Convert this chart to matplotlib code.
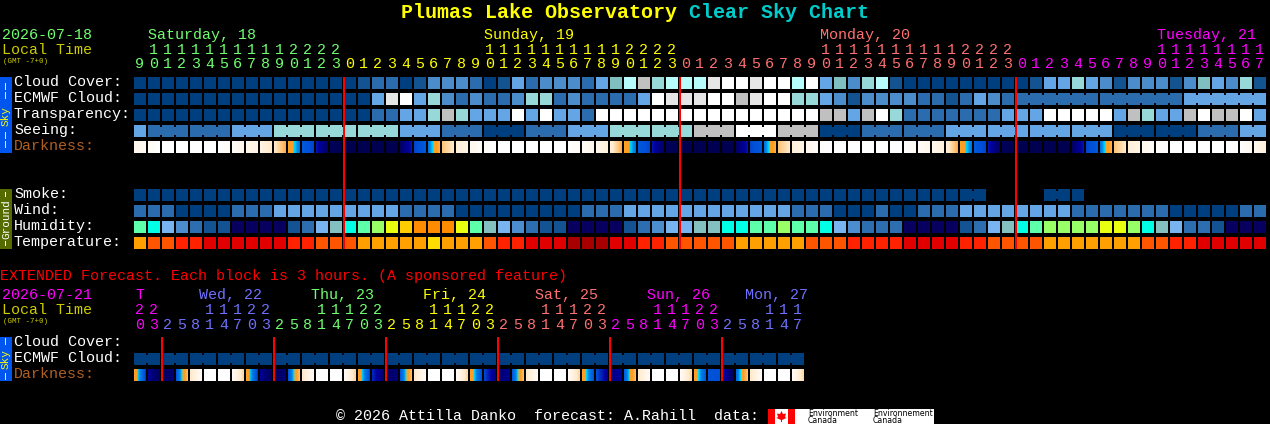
import numpy as np
import matplotlib
matplotlib.use('Agg')
import matplotlib.pyplot as plt
from matplotlib.colors import LinearSegmentedColormap
from matplotlib.patches import Rectangle, Polygon

# --- data ---
SKY_COLORS = ['#003f7f', '#13538f', '#2a6cae', '#4b8ccb', '#63a5e5', '#7fbfbf',
              '#97d9d9', '#b8fbfb', '#c0c0c0', '#e6e6e6', '#ffffff']
HUM_COLORS = ['#08005f', '#135393', '#2d6eb0', '#4c8dd0', '#78b4f0', '#85c0c0',
              '#00ffe4', '#5dffaa', '#99ff66', '#eaff10', '#ffcc00', '#ff8c00']
TEMP_COLORS = ['#a80000', '#e00000', '#ff2200', '#ff5500', '#ffa000', '#ffdd00']

cloud = [0]*16 + [1, 2, 2, 0, 1, 3, 3, 3, 2, 0, 1, 4, 2, 3, 3, 3, 2, 4, 5, 7, 8, 6, 7, 7, 7, 9,
         10, 10, 9, 10, 10, 7, 10, 4, 5, 3, 6, 7, 1, 0, 0, 0, 0, 0, 0, 0, 0, 0, 1, 4, 4, 6,
         4, 3, 1, 3, 3, 3, 1, 3, 5, 4, 3, 6, 1]
ecmwf = [0]*17 + [4, 9, 10, 4, 6, 3, 2, 3, 2, 2, 3, 6, 6, 2, 3, 2, 2, 2, 2, 4, 10, 9, 9, 9, 10,
         10, 8, 9, 10, 10, 6, 6, 4, 3, 1, 3, 3, 3, 3, 2, 2, 1, 2, 4, 3, 2] + [2]*12 + [4]*6
transparency = [0]*17 + [2, 2, 4, 4, 6, 8, 6, 4, 4, 4, 10, 4, 10, 4, 4, 2] + [10]*16 + \
               [8, 8, 4, 8, 10, 6, 2, 2, 2, 2, 2, 2, 2, 4, 4, 4, 10, 10, 10, 10, 10, 4, 8, 6,
                4, 4, 8, 10, 8, 8, 10, 4]
seeing = [4] + [2]*6 + [4]*3 + [6]*9 + [4]*3 + [2]*3 + [0]*3 + [2]*3 + [4]*3 + [6]*6 + [8]*3 + \
         [10]*3 + [8]*3 + [0]*3 + [2]*6 + [4]*12 + [0]*6 + [2]*3 + [4]*2
smoke = [0]*61 + [None]*4 + [0]*3 + [None]*13
wind = [2, 2, 2, 0, 0, 0, 0, 2, 2, 2] + [4]*9 + [2]*4 + [0]*9 + [2]*3 + [4]*12 + [2]*3 + \
       [0, 0, 0, 2, 0, 0, 2, 2, 2] + [4]*8 + [2]*7 + [0]*5 + [2, 2]
humidity = [7, 6, 4, 3, 2, 1, 1, 0, 0, 0, 0, 1, 2, 4, 5, 6, 7, 8, 9, 10, 11, 11, 11, 9, 7, 5, 4,
            3, 2, 1, 1, 0, 0, 0, 0, 1, 2, 3, 4, 4, 5, 5, 6, 6, 7, 7, 8, 7, 7, 6, 4, 3, 2, 2, 2,
            0, 0, 0, 0, 1, 2, 4, 5, 6, 7, 8, 8, 8, 8, 9, 9, 8, 6, 5, 4, 2, 2, 1, 0, 0, 0]
temperature = [4, 3, 3, 2, 2, 1, 1, 1, 1, 1, 1, 2, 2, 3, 3, 3, 4, 4, 4, 4, 4, 5, 4, 4, 4, 3, 2,
               2, 1, 1, 1, 0, 0, 0, 1, 1, 2, 2, 3, 3, 3, 3, 3, 4, 4, 4, 4, 4, 3, 3, 3, 2, 2, 2,
               2, 1, 1, 1, 1, 2, 2, 3, 3, 3, 3, 4, 4, 4, 4, 4, 4, 4, 3, 3, 2, 2, 1, 1, 1, 1, 1]

# darkness: value at left and right edge of each block, 0 = daylight, 8 = full night
dark_left = [1, .6, 0, 0, 0, 0, 0, .4, 1, 1.3, 2, 3.8, 5.8, 6.6, 7.7, 8, 8, 8, 8, 7.5, 6.1, 5.2,
             3, 1.6, .9, .3, 0, 0, 0, 0, 0, 0, .5, 1, 1.5, 3.8, 5.8, 6.6, 7.7, 8, 8, 8, 8, 7.5,
             6.1, 5.2, 3, 1.6, .9, .2, 0, 0, 0, 0, 0, .1, .5, 1, 1.6, 3.8, 5.8, 6.6, 7.7, 8, 8,
             8, 8, 7.5, 6.1, 5.2, 3, 1.6, .9, .2, 0, 0, 0, 0, 0, .2, .8]
dark_right = [.6, 0, 0, 0, 0, 0, .4, 1, 1.3, 2, 3.5, 5.2, 6.1, 7.5, 8, 8, 8, 8, 8, 6.6, 5.8, 3.5,
              2, 1.2, .4, 0, 0, 0, 0, 0, 0, .4, 1, 1.5, 3.5, 5.2, 6.1, 7.5, 8, 8, 8, 8, 8, 6.6,
              5.8, 3.5, 2, 1.2, .4, 0, 0, 0, 0, 0, 0, .5, 1, 1.5, 3.5, 5.2, 6.1, 7.5, 8, 8, 8,
              8, 8, 6.6, 5.8, 3.5, 2, 1.2, .4, 0, 0, 0, 0, 0, .2, .8, 1.6]
ext_dark_left = [3.8, 6.9, 7.7, 5.8, 2, 0, 0, .6, 3.8, 6.9, 7.7, 5.8, 2, 0, 0, .6, 3.8, 6.4, 7.6,
                 5.8, 2, 0, 0, .6, 3.8, 6.1, 7.4, 5.8, 2, 0, 0, .6, 3.8, 6, 7.2, 5.6, 2, 0, 0,
                 .6, 3.8, 5.9, 6.6, 5.4, 2, 0, 0, .6]
ext_dark_right = [6.2, 7.7, 7.2, 3.2, .6, 0, 0, 2.5, 6.2, 7.7, 7.2, 3.2, .6, 0, 0, 2.5, 6.1, 7.4,
                  7.2, 3.2, .6, 0, 0, 2.5, 6, 7.2, 7, 3.2, .6, 0, 0, 2.5, 5.9, 7, 6.8, 3.2, .6,
                  0, 0, 2.5, 5.8, 6, 7.6, 3, .6, 0, 0, 2.5]

ext_cloud = [0]*48

seeing_runs = [1] + [3]*26 + [2]
ecmwf_runs = [1]*63 + [6, 6, 6]
smoke_runs = [1]*59 + [2] + [1]*4 + [2, 1] + [1]*13
ext_runs = [2]*24

main_hours = [list(range(9, 24)), list(range(24)), list(range(24)), list(range(18))]
main_days = ['Saturday, 18', 'Sunday, 19', 'Monday, 20', 'Tuesday, 21']
main_colors = ['#70ff70', '#ffff00', '#ff7070', '#ff00ff']
main_day_x = [148, 484, 820, 1157]
main_midnight_x = [344, 680, 1016]

ext_hours = [[20, 23]] + [[2, 5, 8, 11, 14, 17, 20, 23]]*5 + [[2, 5, 8, 11, 14, 17]]
ext_days = ['T', 'Wed, 22', 'Thu, 23', 'Fri, 24', 'Sat, 25', 'Sun, 26', 'Mon, 27']
ext_colors = ['#ff00ff', '#7070ff', '#70ff70', '#ffff00', '#ff7070', '#ff00ff', '#7070ff']
ext_day_x = [135, 199, 311, 423, 535, 647, 745]
ext_midnight_x = [162, 274, 386, 498, 610, 722]

X0, PITCH, BLOCK = 134, 14, 12
MONO = 'Liberation Mono'

dark_cmap = LinearSegmentedColormap.from_list('dark', [
    (0 / 8, '#ffffff'), (1 / 8, '#fff7ec'), (2 / 8, '#ffeacc'), (3 / 8, '#ffc478'),
    (3.9 / 8, '#ff9d20'), (4.3 / 8, '#ffa020'), (4.5 / 8, '#00e0ff'), (5 / 8, '#0080e8'),
    (6 / 8, '#0050d8'), (6.8 / 8, '#0000a0'), (7.5 / 8, '#000066'), (8 / 8, '#000050')], N=512)


def px(size):
    return size * 0.72


def put(x, y, s, color='white', size=15, **kw):
    kw.setdefault('family', MONO)
    kw.setdefault('va', 'center')
    kw.setdefault('ha', 'left')
    ax.text(x, y, s, color=color, fontsize=px(size), **kw)


def rect(x, y, w, h, color, zorder=1):
    ax.add_patch(Rectangle((x, y), w, h, fc=color, ec='none', snap=False, zorder=zorder))


def draw_row(y, values, colors, runs=None):
    for i, v in enumerate(values):
        if v is not None:
            rect(X0 + i * PITCH, y, BLOCK, BLOCK, colors[v])
    if runs is None:
        return
    i = 0
    for n in runs:
        for j in range(i, i + n - 1):
            if values[j] is not None:
                rect(X0 + j * PITCH + BLOCK, y + 2, PITCH - BLOCK, BLOCK - 4, colors[values[j]])
        i += n


def draw_darkness(y, left, right):
    for i, (a, b) in enumerate(zip(left, right)):
        x = X0 + i * PITCH
        ax.imshow(np.linspace(a, b, BLOCK)[None, :], cmap=dark_cmap, vmin=0, vmax=8, aspect='auto',
                  extent=(x, x + BLOCK, y + BLOCK, y), interpolation='nearest', zorder=2)


def draw_hours(y_tens, y_ones, days, colors):
    col = 0
    for hours, color in zip(days, colors):
        for h in hours:
            x = X0 + col * PITCH + BLOCK / 2 - 0.5
            if h >= 10:
                put(x - 0.5, y_tens, str(h // 10), color, ha='center')
            put(x, y_ones, str(h % 10), color, ha='center')
            col += 1


fig = plt.figure(figsize=(12.7, 4.24), dpi=100, facecolor='black')
ax = fig.add_axes([0, 0, 1, 1], facecolor='black')
ax.set_xlim(0, 1270)
ax.set_ylim(424, 0)
ax.set_autoscale_on(False)
ax.axis('off')

# title
put(401, 12, 'Plumas Lake Observatory', '#ffff00', 20, fontweight='bold')
put(689, 12, 'Clear Sky Chart', '#00cccc', 20, fontweight='bold')

# main header
put(2, 35, '2026-07-18', main_colors[0])
put(2, 50, 'Local Time', '#cccc00')
put(3, 61.5, '(GMT -7+0)', '#cccc00', 7.5)
for x, s, c in zip(main_day_x, main_days, main_colors):
    put(x, 35, s, c)
draw_hours(50, 64, main_hours, main_colors)

# sky block
rect(0, 77, 12, 76, '#0055ee')
put(6, 116, 'Sky', '#ffff00', 11, rotation=90, ha='center')
for y0 in [83, 92, 132, 141]:
    rect(5, y0, 1, 7, '#ffff00')
for y, s, c in zip([82, 98, 114, 130, 146],
                   ['Cloud Cover:', 'ECMWF Cloud:', 'Transparency:', 'Seeing:', 'Darkness:'],
                   ['white', 'white', 'white', 'white', '#b06020']):
    put(14, y, s, c)
draw_row(77, cloud, SKY_COLORS)
draw_row(93, ecmwf, SKY_COLORS, ecmwf_runs)
draw_row(109, transparency, SKY_COLORS)
draw_row(125, seeing, SKY_COLORS, seeing_runs)
draw_darkness(141, dark_left, dark_right)

# ground block
rect(0, 189, 12, 60, '#556b00')
put(6, 219, 'Ground', 'white', 11, rotation=90, ha='center')
for y0 in [192, 241]:
    rect(5, y0, 1, 5, 'white')
for y, s in zip([194, 210, 226, 242], ['Smoke:', 'Wind:', 'Humidity:', 'Temperature:']):
    put(14, y, s)
draw_row(189, smoke, SKY_COLORS, smoke_runs)
draw_row(205, wind, SKY_COLORS)
draw_row(221, humidity, HUM_COLORS)
draw_row(237, temperature, TEMP_COLORS)

for x in main_midnight_x:
    rect(x - 1, 77, 2, 172, '#ff0000', zorder=3)

# extended forecast
put(0, 276, 'EXTENDED Forecast. Each block is 3 hours. (A sponsored feature)', '#ff0000')
put(2, 295, '2026-07-21', '#ff00ff')
put(2, 310, 'Local Time', '#cccc00')
put(3, 321.5, '(GMT -7+0)', '#cccc00', 7.5)
for x, s, c in zip(ext_day_x, ext_days, ext_colors):
    put(x, 295, s, c)
draw_hours(310, 325, ext_hours, ext_colors)

rect(0, 337, 12, 44, '#0055ee')
put(6, 359.5, 'Sky', '#ffff00', 11, rotation=90, ha='center')
for y0 in [338, 373]:
    rect(5, y0, 1, 7, '#ffff00')
for y, s, c in zip([341.5, 357.5, 373.5], ['Cloud Cover:', 'ECMWF Cloud:', 'Darkness:'],
                   ['white', 'white', '#b06020']):
    put(14, y, s, c)
draw_row(353, ext_cloud, SKY_COLORS, ext_runs)
draw_darkness(369, ext_dark_left, ext_dark_right)
for x in ext_midnight_x:
    rect(x - 1, 337, 2, 44, '#ff0000', zorder=3)

# footer
put(336, 416, '\u00a9 2026 Attilla Danko  forecast: A.Rahill  data:')
rect(768, 409, 166, 15, 'white')
rect(768, 409, 7, 15, '#ff0000')
rect(788, 409, 7, 15, '#ff0000')
ax.add_patch(Polygon([(781.5, 411), (783, 414), (786, 413.5), (785, 417), (786.5, 418), (782, 420),
                      (782, 422), (781, 422), (781, 420), (776.5, 418), (778, 417), (777, 413.5),
                      (780, 414)], fc='#ff0000', ec='none'))
for x, s in zip([808, 873], ['Environment', 'Environnement']):
    ax.text(x, 413, s, color='black', fontsize=px(7.8), family='DejaVu Sans', va='center')
    ax.text(x, 420.5, 'Canada', color='black', fontsize=px(7.8), family='DejaVu Sans', va='center')

fig.savefig('out.png', dpi=100, facecolor='black')
